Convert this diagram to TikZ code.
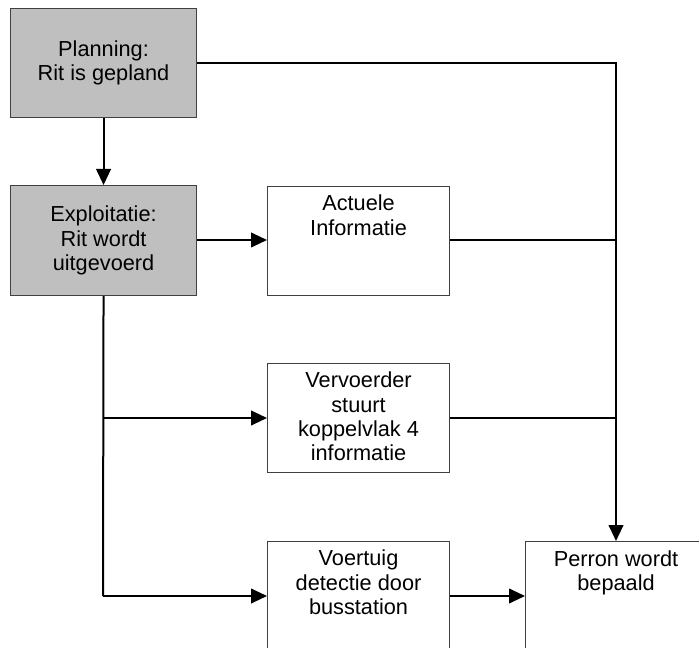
\documentclass[tikz,border=0pt]{standalone}
\usepackage{fontspec}
\setmainfont{Liberation Sans}
\usetikzlibrary{arrows.meta}
\begin{document}
\begin{tikzpicture}[x=0.75pt,y=-0.75pt,
  box/.style={draw=black!75,line width=0.8pt,rectangle,inner sep=0pt,
    minimum width=136.5pt,minimum height=81.5pt,anchor=north west},
  graybox/.style={box,minimum width=139.5pt,fill=gray!50,align=center,
    font=\fontsize{16.3pt}{18.6pt}\selectfont},
  boxtext/.style={anchor=north,inner sep=0pt,align=center,
    font=\fontsize{16.3pt}{18.3pt}\selectfont},
  conn/.style={draw=black,line width=1.5pt},
  arr/.style={conn,-{Triangle[length=12pt,width=11pt]}}]
\clip (0,0) rectangle (699,648);
\fill[white] (0,0) rectangle (699,648);
% boxes
\node[graybox] (plan) at (10,8) {Planning:\\Rit is gepland};
\node[graybox,minimum height=82.5pt] (expl) at (10,185) {Exploitatie:\\Rit wordt\\uitgevoerd};
\node[box] (act) at (267,186) {};
\node[box] (verv) at (267,363) {};
\node[box,minimum height=90pt] (voer) at (267,541) {};
\node[box,minimum width=150pt,minimum height=90pt] (perr) at (525,541) {};
% texts
\node[boxtext] (tact) at ([yshift=-6.5pt]act.north) {Actuele\\Informatie};
\node[boxtext] (tverv) at ([yshift=-6.5pt]verv.north) {Vervoerder\\stuurt\\koppelvlak 4\\informatie};
\node[boxtext] (tvoer) at ([yshift=-6.5pt]voer.north) {Voertuig\\detectie door\\busstation};
\node[boxtext] (tperr) at ([yshift=-7pt]perr.north -| 616,0) {Perron wordt\\bepaald};
% connector points
\coordinate (c1) at (616,63);
\coordinate (c2) at (616,240);
\coordinate (c3) at (616,418);
\coordinate (b1) at (103,418);
\coordinate (b2) at (103,596);
% connectors
\draw[arr] (plan.east |- c1) -- (c1) -- (c1 |- perr.north);
\draw[arr] (plan.south) -- (expl.north);
\draw[arr] (expl.east |- c2) -- (act.west |- c2);
\draw[conn] (act.east |- c2) -- (c2);
\draw[conn] (verv.east |- c3) -- (c3);
\draw[conn] (expl.south) -- (b2);
\draw[arr] (b1) -- (verv.west |- b1);
\draw[arr] (b2) -- (voer.west |- b2);
\draw[arr] (voer.east |- b2) -- (perr.west |- b2);
\end{tikzpicture}
\end{document}
